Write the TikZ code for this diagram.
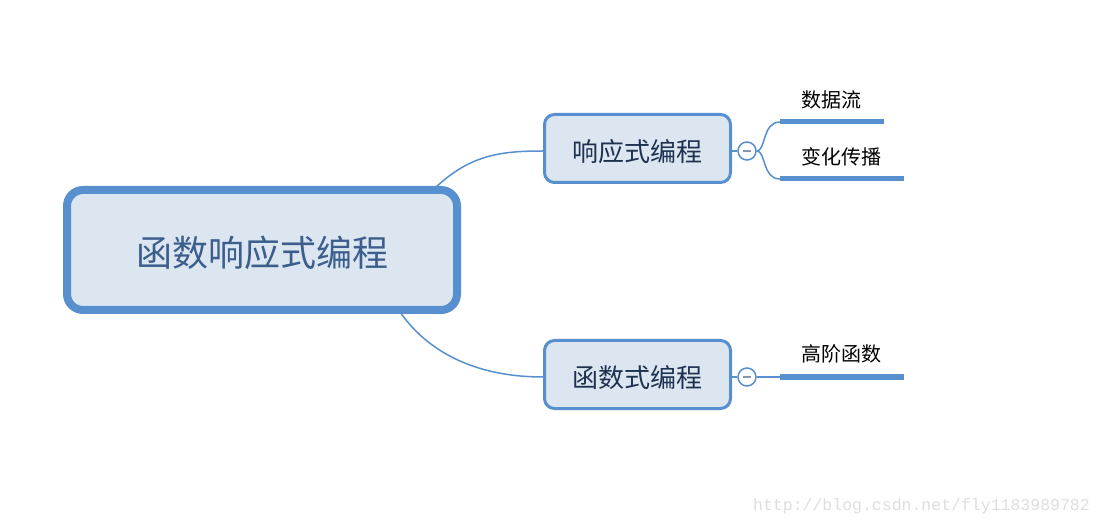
\documentclass[tikz,border=0pt]{standalone}
\usepackage{fontspec}
\usepackage{tikz}
\usepackage{xcolor}
\newfontfamily\cjk{Noto Sans CJK SC}
\definecolor{mapblue}{RGB}{88,143,206}
\definecolor{boxfill}{RGB}{220,230,241}
\definecolor{roottext}{RGB}{59,94,140}
\definecolor{subtext}{RGB}{30,50,80}
\definecolor{marktext}{RGB}{222,222,222}
\definecolor{minusgray}{RGB}{140,150,170}

\begin{document}
\begin{tikzpicture}[x=1pt,y=-1pt,
    rootbox/.style={draw=mapblue,line width=8pt,fill=boxfill,rounded corners=16pt,
        minimum width=390pt,minimum height=120pt,inner sep=0pt,
        text height=36.5pt,text depth=3pt,
        font=\cjk\fontsize{36}{40}\selectfont,text=roottext},
    subbox/.style={draw=mapblue,line width=3pt,fill=boxfill,rounded corners=10pt,
        minimum width=186pt,minimum height=68pt,inner sep=0pt,
        text height=28pt,text depth=2pt,
        font=\cjk\fontsize{26}{30}\selectfont,text=subtext},
    leaf/.style={font=\cjk\fontsize{20}{24}\selectfont,text=black,inner sep=0pt},
    fold/.style={circle,draw=mapblue,line width=1.5pt,fill=white,minimum size=18pt,inner sep=0pt},
    link/.style={draw=mapblue,line width=1.5pt},
    bar/.style={draw=mapblue,line width=5pt}]
                % Frame
                \useasboundingbox (0,0) rectangle (1100,526);
                \fill[white] (0,0) rectangle (1100,526);

                % Links from the root
                \coordinate (rtop) at (435,188);
                \coordinate (rbot) at (400,312);
                \node[subbox] (reactive) at (637.5,148.5) {响应式编程};
                \node[subbox] (functional) at (637.5,374.5) {函数式编程};
                \node[fold] (fold1) at (747,151) {};
                \node[fold] (fold2) at (747,377) {};
                \draw[link] (rtop) .. controls (470,155) and (500,151) .. (reactive.west |- fold1);
                \draw[link] (rbot) .. controls (430,355) and (480,377) .. (functional.west |- fold2);

                % Root
                \node[rootbox] (root) at (262,250) {函数响应式编程};

                % Fold buttons
                \draw[link] (reactive.east |- fold1) -- (fold1.west);
                \draw[link] (functional.east |- fold2) -- (fold2.west);
                \draw[minusgray,line width=1.5pt] (743,151) -- (751,151);
                \draw[minusgray,line width=1.5pt] (743,377) -- (751,377);

                % Leaves
                \coordinate (s1) at (780,122);
                \coordinate (e1) at (884,122);
                \coordinate (s2) at (780,179);
                \coordinate (e2) at (904,179);
                \coordinate (s3) at (780,377);
                \coordinate (e3) at (904,377);
                \node[leaf] (flow) at (831,100) {数据流};
                \node[leaf] (change) at (841,157) {变化传播};
                \node[leaf] (higher) at (841,354) {高阶函数};
                \draw[link] (fold1.east) .. controls (766,151) and (762,122) .. (s1);
                \draw[link] (fold1.east) .. controls (766,151) and (762,179) .. (s2);
                \draw[link] (fold2.east) -- (s3);
                \draw[bar] (s1) -- (e1);
                \draw[bar] (s2) -- (e2);
                \draw[bar] (s3) -- (e3);

                % Watermark
                \node[font=\fontspec{Liberation Mono}\fontsize{16.5}{18}\selectfont,text=marktext,anchor=east,inner sep=0pt] (mark) at (1090,506) {http://blog.csdn.net/fly1183989782};
\end{tikzpicture}
\end{document}
